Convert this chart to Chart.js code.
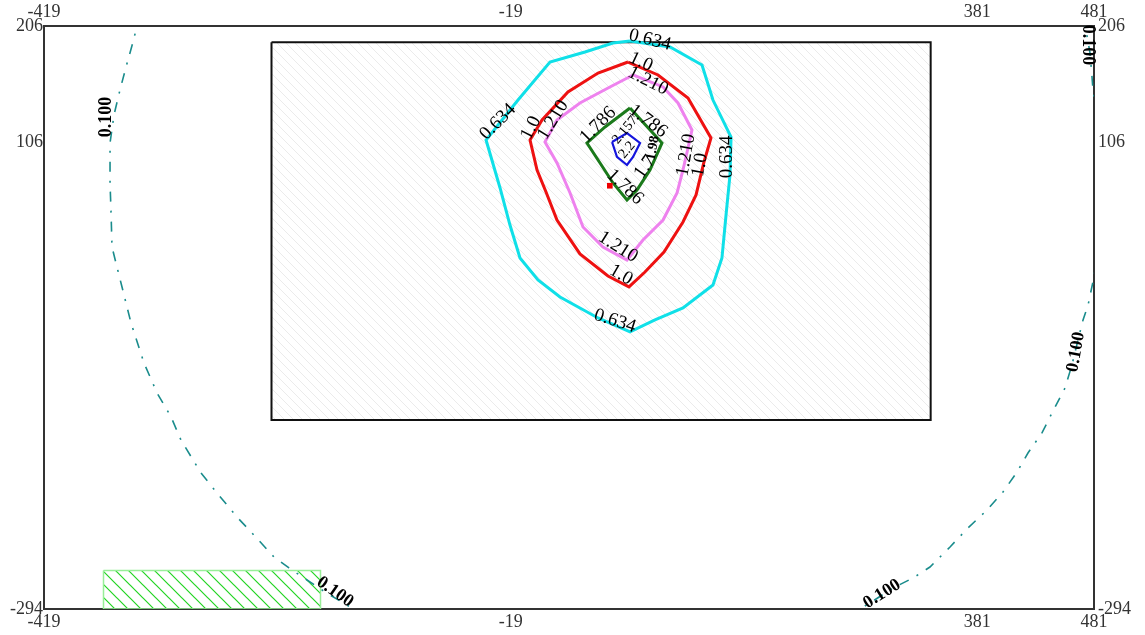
<!DOCTYPE html>
<html><head><meta charset="utf-8">
<script src="https://cdn.jsdelivr.net/npm/chart.js@4.4.0/dist/chart.umd.min.js"></script>
<style>html,body{margin:0;padding:0;background:#fff;overflow:hidden}</style>
</head><body>
<canvas id="c" width="1145" height="635" style="display:block;width:1145px;height:635px"></canvas>
<script>
// ---- axis ranges & ticks ----
const xRange = [-419, 481];
const yRange = [-294, 206];
const xTicks = [-419, -19, 381, 481];
const yTicks = [206, 106, -294];

// ---- building (hatched grey) and area (hatched green) extents ----
const buildingX = [-224, 341];
const buildingY = [-132, 192];
const areaX = [-368, -182];
const areaY = [-294, -261];

// ---- source marker ----
const sourceX = [66];
const sourceY = [69];

// ---- contour lines ----
const c0634X = [83.3,117.6,145.0,154.4,169.9,169.0,165.6,162.1,154.4,128.7,104.7,83.3,55.9,23.3,4.4,-11.0,-19.6,-28.1,-40.1,-12.7,14.7,44.7,68.7];
const c0634Y = [193.1,188.0,172.6,142.5,110.8,78.2,43.9,7.0,-16.1,-35.8,-46.1,-56.4,-44.4,-26.4,-11.8,7.0,35.3,67.1,108.2,142.5,175.1,183.7,191.4];

const c1000X = [81.6,107.3,133.0,152.7,146.7,139.9,128.7,112.4,96.1,82.4,64.4,40.4,20.7,11.3,3.6,-2.4,7.9,30.1,55.9];
const c1000Y = [175.1,164.0,144.3,110.0,89.4,61.1,37.9,12.2,-5.0,-17.8,-8.4,10.5,39.6,63.6,82.5,108.2,125.4,149.4,165.7];

const c1210X = [85.9,111.6,124.4,136.4,133.0,128.7,123.6,111.6,94.4,80.7,60.1,43.0,31.9,20.7,10.4,20.7,40.4,66.1];
const c1210Y = [164.0,153.7,140.0,116.8,101.4,82.5,62.8,39.6,22.5,5.3,16.5,33.6,62.8,88.5,106.5,125.4,140.0,153.7];

const c1786X = [83.3,110.7,100.4,89.3,80.7,68.7,57.6,46.4,61.9];
const c1786Y = [135.7,105.7,82.5,65.4,56.8,71.4,88.5,105.7,119.4];

const c2100X = [67.9,80.7,91.9,85.9,80.7,72.1];
const c2100Y = [106.5,114.2,105.7,93.7,86.8,93.7];

const c0100X = [-337.6,-339.3,-342.7,-348.7,-353.9,-359.0,-362.4,-362.4,-361.6,-360.7,-357.3,-353.0,-344.4,-333.3,-322.1,-310.1,-301.6,-284.4,-270.7,-253.6,-240.7,-221.9,-209.0,-193.6,-178.1,-161.0,-143.9,57.6,267.6,289.0,308.7,325.9,340.4,357.6,373.0,389.3,403.0,415.0,424.4,436.4,445.0,456.1,462.1,467.3,471.6,475.9,480.1,494.7,480.1,479.3,477.6,473.3,471.6];
const c0100Y = [215.4,206,192.3,170.8,151.1,129.7,105.7,71.4,48.2,16.5,2.7,-14.4,-48.7,-83.0,-108.7,-129.3,-149.1,-177.4,-194.5,-215.1,-228.8,-249.4,-258.8,-269.1,-279.4,-289.7,-299.1,-354.9,-301.7,-288.8,-276.0,-267.4,-258.0,-240.8,-224.5,-209.1,-193.6,-176.5,-160.2,-143.0,-125.9,-104.5,-84.7,-63.3,-46.1,-33.3,-13.5,65.4,151.1,162.3,182.8,206.9,215.4];

// ---- contour labels ----
const labelText  = ['0.634','0.634','0.634','0.634','1.0','1.210','1.0','1.210','1.210','1.0','1.210','1.0','1.786','1.786','1.786','1.7','2.157','2.2','1.98','0.100','0.100','0.100','0.100','0.100'];
const labelX     = [100.4,-29.9,166.4,70.4,92.7,98.7,-1.6,17.3,131.3,143.3,73.0,75.6,55.9,98.7,79.0,96.1,79.0,80.7,103.0,-365.9,475.9,465.6,299.3,-169.6];
const labelY     = [194.0,123.7,93.7,-47.0,175.1,158.8,118.5,125.4,95.4,86.8,16.5,-7.5,121.1,124.5,67.9,85.1,116.8,99.7,101.4,127.9,189.7,-73.6,-281.1,-279.4];
const labelAngle = [14,-45,-90,18,25,27,-63,-58,-80,-80,32,30,-45,37,43,-55,-50,-50,-80,-90,90,-80,-32,35];
const labelBold  = [0,0,0,0,0,0,0,0,0,0,0,0,0,0,0,0,0,0,1,1,1,1,1,1];

// ---- helpers ----
const pts = (xs, ys, close) => {
  const a = xs.map((x, i) => ({x, y: ys[i]}));
  if (close) a.push({x: xs[0], y: ys[0]});
  return a;
};
const rectPts = (xs, ys) => [
  {x: xs[0], y: ys[1]}, {x: xs[1], y: ys[1]}, {x: xs[1], y: ys[0]},
  {x: xs[0], y: ys[0]}, {x: xs[0], y: ys[1]}
];
function hatch(size, color, lw) {
  const c = document.createElement('canvas');
  c.width = size; c.height = size;
  const g = c.getContext('2d');
  g.strokeStyle = color; g.lineWidth = lw;
  g.beginPath();
  g.moveTo(-2, -2); g.lineTo(size + 2, size + 2);
  g.moveTo(-2, size - 2); g.lineTo(2, size + 2);
  g.moveTo(size - 2, -2); g.lineTo(size + 2, 2);
  g.stroke();
  return g.createPattern(c, 'repeat');
}
const ctx = document.getElementById('c').getContext('2d');
const greyHatch = hatch(9, '#ebebeb', 1);
const greenHatch = hatch(13, '#22d422', 1.2);

const lineDs = (data, color, width, order, extra) => Object.assign({
  data, showLine: true, borderColor: color, borderWidth: width, pointRadius: 0,
  fill: false, tension: 0, order, clip: 0, xAxisID: 'x', yAxisID: 'y'
}, extra || {});

const labelPlugin = {
  id: 'contourLabels',
  afterDatasetsDraw(chart) {
    const c = chart.ctx, xs = chart.scales.x, ys = chart.scales.y;
    c.save();
    c.fillStyle = '#000';
    c.textAlign = 'center';
    c.textBaseline = 'middle';
    labelText.forEach((t, i) => {
      const px = xs.getPixelForValue(labelX[i]);
      const py = ys.getPixelForValue(labelY[i]);
      c.save();
      c.translate(px, py);
      c.rotate(labelAngle[i] * Math.PI / 180);
      const small = i >= 16 && i <= 18;
      const big = i >= 19;
      c.font = (labelBold[i] ? 'bold ' : '') + (small ? '14px' : big ? '18px' : '19px') + ' "Liberation Serif", "DejaVu Serif", serif';
      c.fillText(t, 0, 0);
      c.restore();
    });
    c.restore();
  }
};

const tickFont = {family: '"Liberation Serif", "DejaVu Serif", serif', size: 18};
const mkAxis = (pos, range, ticks, size, pad) => ({
  type: 'linear', position: pos, min: range[0], max: range[1],
  grid: {display: false, drawTicks: false},
  border: {display: true, color: '#333', width: 2},
  ticks: {color: '#333', font: tickFont, padding: pad, autoSkip: false, maxRotation: 0,
          callback: v => String(v)},
  afterBuildTicks: s => { s.ticks = ticks.map(v => ({value: v})); },
  afterFit: s => { if (pos === 'left' || pos === 'right') s.width = size; else s.height = size; }
});

new Chart(ctx, {
  type: 'scatter',
  data: {
    datasets: [
      lineDs(pts(sourceX, sourceY), '#ee0000', 0, 1,
        {showLine: false, pointRadius: 4, pointStyle: 'rect', pointBackgroundColor: '#ee0000', pointBorderWidth: 0}),
      lineDs(pts(c2100X, c2100Y, true), '#1515dd', 2.2, 2),
      lineDs(pts(c1786X, c1786Y, true), '#1b7a1b', 3, 3),
      lineDs(pts(c1210X, c1210Y, true), '#ee82ee', 3, 4),
      lineDs(pts(c1000X, c1000Y, true), '#ee1111', 3, 5),
      lineDs(pts(c0634X, c0634Y, true), '#10e0e8', 3, 6),
      lineDs(pts(c0100X, c0100Y), '#1a8c8c', 1.6, 7, {borderDash: [10, 9, 2, 9]}),
      lineDs(rectPts(areaX, areaY), '#99ee99', 1.5, 8, {fill: 'shape', backgroundColor: greenHatch}),
      lineDs(rectPts(buildingX, buildingY), '#111', 2, 9, {fill: 'shape', backgroundColor: greyHatch})
    ]
  },
  options: {
    responsive: false,
    animation: false,
    devicePixelRatio: 1,
    layout: {padding: 0},
    plugins: {legend: {display: false}, tooltip: {enabled: false}},
    scales: {
      x: mkAxis('bottom', xRange, xTicks, 26, 2),
      x2: mkAxis('top', xRange, xTicks, 26, 3),
      y: mkAxis('left', yRange, yTicks, 44, 1),
      y2: mkAxis('right', yRange, yTicks, 51, 4)
    }
  },
  plugins: [labelPlugin]
});
</script>
</body></html>
